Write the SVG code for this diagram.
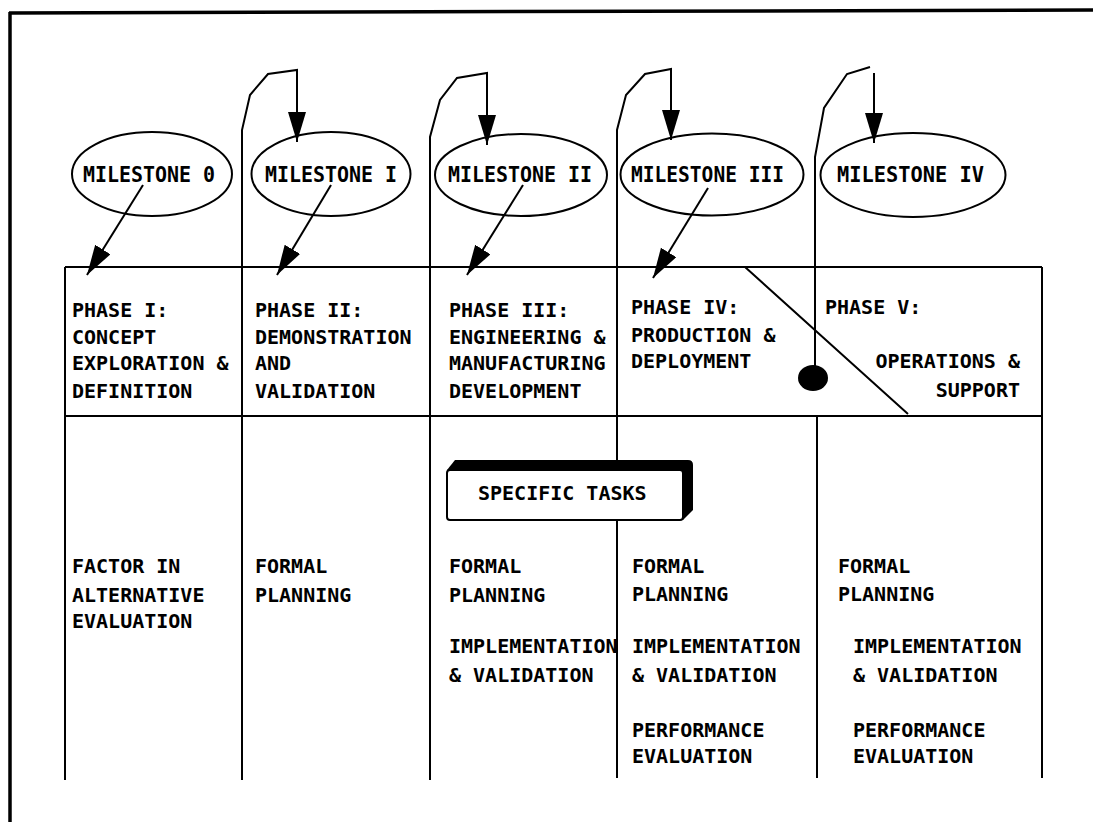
<svg xmlns="http://www.w3.org/2000/svg" width="1093" height="829" viewBox="0 0 1093 829">
<defs>
<marker id="ah" markerUnits="userSpaceOnUse" markerWidth="32" markerHeight="20" refX="30" refY="9" orient="auto">
<path d="M0,0 L30,9 L0,18 Z" fill="#000"/>
</marker>
<style>
.ln{fill:none;stroke:#000;stroke-width:2}
.bd{fill:none;stroke:#000;stroke-width:3.5}
.el{fill:#fff;stroke:#000;stroke-width:2}
.t{font-family:"DejaVu Sans Mono","Liberation Mono",monospace;font-size:20px;font-weight:bold;fill:#000}
.m{font-family:"DejaVu Sans Mono","Liberation Mono",monospace;font-size:22px;font-weight:bold;fill:#000}
</style>
</defs>
<rect width="1093" height="829" fill="#fff"/>
<g id="frame">
<path class="bd" d="M9,13 L1093,10"/>
<path class="bd" d="M10,12 L10,822"/>
</g>
<g id="table">
<path class="ln" d="M65,267 L1042,267 M65,416 L1042,416 M65,267 L65,780 M1042,267 L1042,778 M242,267 L242,780 M430,267 L430,780 M617,267 L617,460 M617,520 L617,778 M815,267 L815,366 M817,416 L817,778 M745,267 L908,414"/>
<ellipse cx="813" cy="378" rx="15" ry="13" fill="#000"/>
</g>
<g id="milestone-0">
<ellipse class="el" cx="152" cy="174" rx="80" ry="42"/>
<text class="m" x="83" y="182" textLength="132" lengthAdjust="spacingAndGlyphs">MILESTONE 0</text>
</g>
<g id="milestone-1">
<ellipse class="el" cx="331" cy="174" rx="79.5" ry="42"/>
<text class="m" x="265" y="182" textLength="132" lengthAdjust="spacingAndGlyphs">MILESTONE I</text>
</g>
<g id="milestone-2">
<ellipse class="el" cx="521" cy="175" rx="86" ry="41"/>
<text class="m" x="448" y="182" textLength="144" lengthAdjust="spacingAndGlyphs">MILESTONE II</text>
</g>
<g id="milestone-3">
<ellipse class="el" cx="712" cy="174.5" rx="91.5" ry="41"/>
<text class="m" x="631" y="182" textLength="153" lengthAdjust="spacingAndGlyphs">MILESTONE III</text>
</g>
<g id="milestone-4">
<ellipse class="el" cx="913" cy="175" rx="92.5" ry="42"/>
<text class="m" x="837" y="182" textLength="147" lengthAdjust="spacingAndGlyphs">MILESTONE IV</text>
</g>
<g id="connectors">
<path class="ln" d="M143,185 L87,275" marker-end="url(#ah)"/>
<path class="ln" d="M331,185 L277,275" marker-end="url(#ah)"/>
<path class="ln" d="M523,185 L467,275" marker-end="url(#ah)"/>
<path class="ln" d="M708,188 L653,278" marker-end="url(#ah)"/>
<path class="ln" d="M242,267 L242,130 L250,95 L268,74 L297,70 L297,142" marker-end="url(#ah)"/>
<path class="ln" d="M430,267 L430,137 L440,100 L457,78 L487,73 L487,145" marker-end="url(#ah)"/>
<path class="ln" d="M617,267 L617,130 L626,95 L645,74 L671,69 L671,140" marker-end="url(#ah)"/>
<path class="ln" d="M815,267 L815,157 L824,108 L847,74 L870,67"/>
<path class="ln" d="M874,73 L874,143" marker-end="url(#ah)"/>
</g>
<g id="phase-1">
<text class="t" x="72" y="317">PHASE I:</text>
<text class="t" x="72" y="344">CONCEPT</text>
<text class="t" x="72" y="370">EXPLORATION &amp;</text>
<text class="t" x="72" y="398">DEFINITION</text>
</g>
<g id="phase-2">
<text class="t" x="255" y="317">PHASE II:</text>
<text class="t" x="255" y="344">DEMONSTRATION</text>
<text class="t" x="255" y="370">AND</text>
<text class="t" x="255" y="398">VALIDATION</text>
</g>
<g id="phase-3">
<text class="t" x="449" y="317">PHASE III:</text>
<text class="t" x="449" y="344">ENGINEERING &amp;</text>
<text class="t" x="449" y="370">MANUFACTURING</text>
<text class="t" x="449" y="398">DEVELOPMENT</text>
</g>
<g id="phase-4">
<text class="t" x="631" y="314">PHASE IV:</text>
<text class="t" x="631" y="342">PRODUCTION &amp;</text>
<text class="t" x="631" y="368">DEPLOYMENT</text>
</g>
<g id="phase-5">
<text class="t" x="825" y="314">PHASE V:</text>
<text class="t" x="1020" y="368" text-anchor="end">OPERATIONS &amp;</text>
<text class="t" x="1020" y="397" text-anchor="end">SUPPORT</text>
</g>
<g id="specific-tasks">
<path d="M447,470 L455,460 L688,460 Q693,460 693,465 L693,510 L683,520 L447,520 Z" fill="#000"/>
<rect x="447" y="470" width="236" height="50" rx="3" fill="#fff" stroke="#000" stroke-width="2"/>
<text class="t" x="478" y="500">SPECIFIC TASKS</text>
</g>
<g id="tasks-1">
<text class="t" x="72" y="573">FACTOR IN</text>
<text class="t" x="72" y="602">ALTERNATIVE</text>
<text class="t" x="72" y="628">EVALUATION</text>
</g>
<g id="tasks-2">
<text class="t" x="255" y="573">FORMAL</text>
<text class="t" x="255" y="602">PLANNING</text>
</g>
<g id="tasks-3">
<text class="t" x="449" y="573">FORMAL</text>
<text class="t" x="449" y="602">PLANNING</text>
<text class="t" x="449" y="653">IMPLEMENTATION</text>
<text class="t" x="449" y="682">&amp; VALIDATION</text>
</g>
<g id="tasks-4">
<text class="t" x="632" y="573">FORMAL</text>
<text class="t" x="632" y="601">PLANNING</text>
<text class="t" x="632" y="653">IMPLEMENTATION</text>
<text class="t" x="632" y="682">&amp; VALIDATION</text>
<text class="t" x="632" y="737">PERFORMANCE</text>
<text class="t" x="632" y="763">EVALUATION</text>
</g>
<g id="tasks-5">
<text class="t" x="838" y="573">FORMAL</text>
<text class="t" x="838" y="601">PLANNING</text>
<text class="t" x="853" y="653">IMPLEMENTATION</text>
<text class="t" x="853" y="682">&amp; VALIDATION</text>
<text class="t" x="853" y="737">PERFORMANCE</text>
<text class="t" x="853" y="763">EVALUATION</text>
</g>
</svg>
